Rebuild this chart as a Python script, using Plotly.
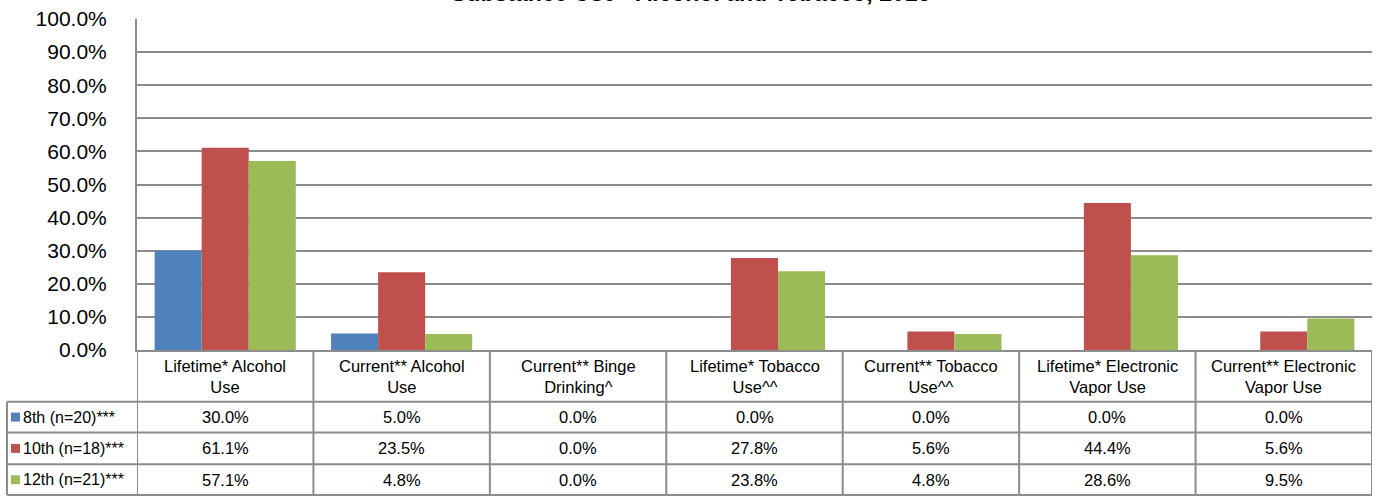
import plotly.graph_objects as go

categories = [
    "Lifetime* Alcohol<br>Use",
    "Current** Alcohol<br>Use",
    "Current** Binge<br>Drinking^",
    "Lifetime* Tobacco<br>Use^^",
    "Current** Tobacco<br>Use^^",
    "Lifetime* Electronic<br>Vapor Use",
    "Current** Electronic<br>Vapor Use",
]
series_names = ["8th (n=20)***", "10th (n=18)***", "12th (n=21)***"]
grade8 = [30.0, 5.0, 0.0, 0.0, 0.0, 0.0, 0.0]
grade10 = [61.1, 23.5, 0.0, 27.8, 5.6, 44.4, 5.6]
grade12 = [57.1, 4.8, 0.0, 23.8, 4.8, 28.6, 9.5]
colors = ["#4F81BD", "#C0504D", "#9BBB59"]
title_text = "Substance Use - Alcohol and Tobacco, 2016"

W, H = 1379, 497
L, R, T, B = 137, 7, 17, 147
PW, PH = W - L - R, H - T - B
FONT = "Liberation Sans, Arial, sans-serif"


def py(p):
    return (H - B - p) / PH


def px(p):
    return (p - L) / PW


series = [grade8, grade10, grade12]
idx = list(range(len(categories)))

fig = go.Figure()
for name, vals, col in zip(series_names, series, colors):
    fig.add_trace(go.Bar(
        x=idx, y=[v / 100 for v in vals], name=name,
        marker=dict(color=col, line=dict(width=0)),
        showlegend=False,
    ))

grid_col = "#8C8C8C"
shapes = []
annotations = []

# table geometry (pixels)
header_top, header_bot = 350, 402
row_bounds = [402, 433, 465, 496]
left_x = 7

for k in range(len(categories) + 1):
    shapes.append(dict(type="line", xref="x", yref="paper",
                       x0=k - 0.5, x1=k - 0.5, y0=py(header_top), y1=py(row_bounds[-1]),
                       line=dict(color=grid_col, width=2)))
shapes.append(dict(type="line", xref="paper", yref="paper",
                   x0=px(left_x), x1=px(left_x), y0=py(row_bounds[0]), y1=py(row_bounds[-1]),
                   line=dict(color=grid_col, width=2)))
for rb in row_bounds:
    shapes.append(dict(type="line", xref="paper", yref="paper",
                       x0=px(left_x), x1=1, y0=py(rb), y1=py(rb),
                       line=dict(color=grid_col, width=2)))

for i, c in enumerate(categories):
    annotations.append(dict(x=i, y=py((header_top + header_bot) / 2 + 1), xref="x", yref="paper",
                            text=c, showarrow=False, xanchor="center", yanchor="middle",
                            font=dict(size=16.5, color="#000", family=FONT)))

for r, (name, vals, col) in enumerate(zip(series_names, series, colors)):
    yc = (row_bounds[r] + row_bounds[r + 1]) / 2
    shapes.append(dict(type="rect", xref="paper", yref="paper",
                       x0=px(11), x1=px(20), y0=py(yc - 4.5), y1=py(yc + 4.5),
                       fillcolor=col, line=dict(width=0)))
    annotations.append(dict(x=px(21), y=py(yc), xref="paper", yref="paper",
                            text=name, showarrow=False, xanchor="left", yanchor="middle",
                            font=dict(size=16, color="#000", family=FONT)))
    for i, v in enumerate(vals):
        annotations.append(dict(x=i, y=py(yc), xref="x", yref="paper",
                                text=f"{v:.1f}%", showarrow=False, xanchor="center", yanchor="middle",
                                font=dict(size=16.5, color="#000", family=FONT)))

# title (mostly cut off at the top edge, as in the reference)
annotations.append(dict(x=px(690), y=py(5.5), xref="paper", yref="paper",
                        text="<b>" + title_text + "</b>",
                        showarrow=False, xanchor="center", yanchor="bottom",
                        font=dict(size=23, color="#000", family=FONT)))

fig.update_layout(
    width=W, height=H,
    margin=dict(l=L, r=R, t=T, b=B, pad=0),
    paper_bgcolor="white", plot_bgcolor="white",
    barmode="group", bargap=0.2, bargroupgap=0,
    font=dict(family=FONT, color="#000"),
    shapes=shapes, annotations=annotations,
    xaxis=dict(range=[-0.5, len(categories) - 0.5], showticklabels=False, showgrid=False,
               zeroline=False, showline=True, linecolor=grid_col, linewidth=2, ticks=""),
    yaxis=dict(range=[0, 1], tickmode="array", tickvals=[i / 10 for i in range(11)],
               tickformat=".1%", showgrid=True, gridcolor=grid_col, gridwidth=2,
               zeroline=False, showline=True, linecolor=grid_col, linewidth=2,
               ticks="", ticklabelstandoff=24,
               tickfont=dict(size=21, color="#000", family=FONT)),
)

fig.write_html("out.html", config={"displayModeBar": False},
               post_script="document.body.style.margin='0px';")
